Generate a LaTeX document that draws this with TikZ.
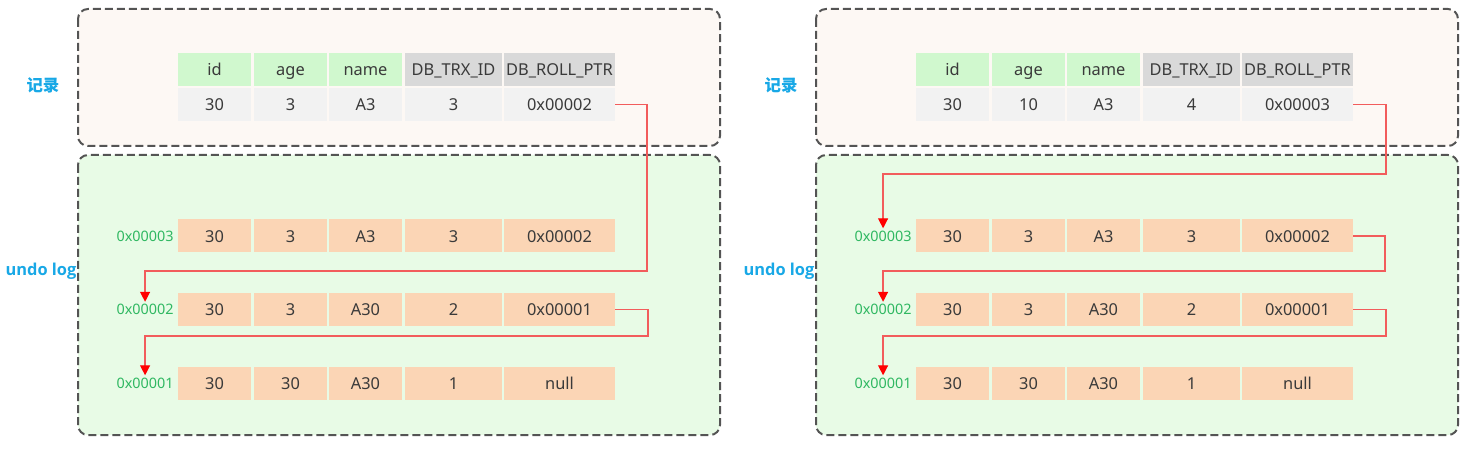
\documentclass[tikz,border=0pt]{standalone}
\usepackage{fontspec}
\setmainfont{Noto Sans}
\newfontfamily\cjk{Noto Sans CJK SC}
\newfontfamily\lblfont{Open Sans}
\usetikzlibrary{arrows.meta}
\definecolor{recbg}{HTML}{FDF8F4}
\definecolor{undobg}{HTML}{E8FBE6}
\definecolor{hdgreen}{HTML}{D0F8CE}
\definecolor{hdgray}{HTML}{D9D9D9}
\definecolor{rowgray}{HTML}{F2F2F2}
\definecolor{rowpeach}{HTML}{FBD5B5}
\definecolor{txt}{HTML}{3A3A3A}
\definecolor{addrgreen}{HTML}{30B862}
\definecolor{logblue}{HTML}{18A8E6}
\definecolor{ptrred}{HTML}{F25C5C}
% one panel: #1 prefix, #2 age, #3 trx id, #4 roll ptr
\newcommand{\drawpanel}[4]{%
  \draw[box, fill=recbg] (78,9) rectangle (720,146);
  \draw[box, fill=undobg] (78,155) rectangle (720,435);
  \node[lbl] (#1rec) at (43,85) {\cjk 记录};
  \node[lbl] (#1log) at (41,271) {\lblfont undo log};
  % record
  \foreach \x/\w/\t/\c [count=\i] in {214.5/36.5pt/id/hdgreen, 290.5/36.5pt/age/hdgreen,
      365.5/36.5pt/name/hdgreen, 453.5/48.5pt/DB\_TRX\_ID/hdgray, 559.5/55.5pt/DB\_ROLL\_PTR/hdgray}
    \node[cell, fill=\c, minimum width=\w] (#1h\i) at (\x,69.5) {\t};
  \foreach \x/\w/\v [count=\i] in {214.5/36.5pt/30, 290.5/36.5pt/#2, 365.5/36.5pt/A3,
      453.5/48.5pt/#3, 559.5/55.5pt/#4}
    \node[cell, fill=rowgray, minimum width=\w] (#1r\i) at (\x,104.5) {\v};
  % undo log
  \foreach \y/\a/\b/\c/\d/\e/\ad [count=\j] in {236/30/3/A3/3/0x00002/0x00003,
      309.5/30/3/A30/2/0x00001/0x00002, 383/30/30/A30/1/null/0x00001}{
    \node[addr] (#1a\j) at (176,\y) {\ad};
    \foreach \x/\w/\v [count=\i] in {214.5/36.5pt/\a, 290.5/36.5pt/\b, 365.5/36.5pt/\c,
        453.5/48.5pt/\d, 559.5/55.5pt/\e}
      \node[cell, fill=rowpeach, minimum width=\w] (#1u\j\i) at (\x,\y) {\v};
  }
}

\begin{document}
\begin{tikzpicture}[x=0.5pt, y=-0.5pt,
  box/.style={draw=black!67, line width=1pt, dash pattern=on 4pt off 2pt, rounded corners=5pt},
  cell/.style={minimum height=16.5pt, inner sep=0pt, text height=1.55ex, text depth=0.35ex,
    text=txt, font=\fontsize{8.2}{10}\selectfont},
  addr/.style={anchor=east, inner sep=1pt, text=addrgreen, font=\fontsize{7.2}{9}\selectfont},
  lbl/.style={inner sep=0pt, text=logblue, font=\bfseries\fontsize{8.2}{10}\selectfont},
  ptr/.style={draw=ptrred, line width=0.6pt, -{Triangle[width=5pt, length=5pt, color=red]}}]
\useasboundingbox (0,0) rectangle (1469,449);

% left panel
\drawpanel{L}{3}{3}{0x00002}
\coordinate (Lk1) at (647,271);
\coordinate (Lk2) at (648,336);
\draw[ptr] (Lr5.east) -| (Lk1) -| (La2.north);
\draw[ptr] (Lu25.east) -| (Lk2) -| (La3.north);

% right panel
\begin{scope}[xshift=369pt]
\drawpanel{R}{10}{4}{0x00003}
\coordinate (Rk1) at (648,174);
\coordinate (Rk2) at (647,271);
\coordinate (Rk3) at (648,336);
\draw[ptr] (Rr5.east) -| (Rk1) -| (Ra1.north);
\draw[ptr] (Ru15.east) -| (Rk2) -| (Ra2.north);
\draw[ptr] (Ru25.east) -| (Rk3) -| (Ra3.north);
\end{scope}
\end{tikzpicture}
\end{document}
